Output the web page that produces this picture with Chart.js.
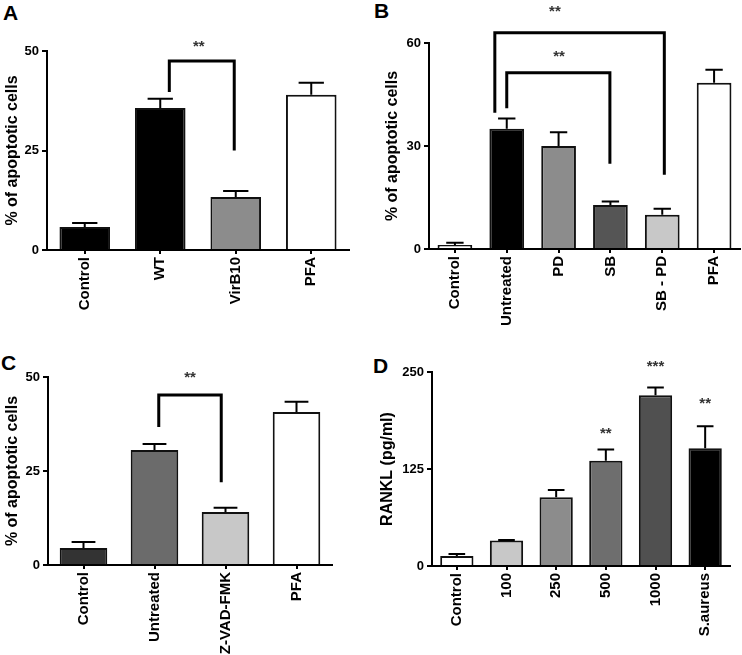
<!DOCTYPE html>
<html>
<head>
<meta charset="utf-8">
<script src="https://cdn.jsdelivr.net/npm/chart.js@4"></script>
<style>
  html, body { margin:0; padding:0; background:#fff; }
  body { width:742px; height:655px; position:relative; overflow:hidden; font-family:"Liberation Sans", Arial, sans-serif; }
  .panel { position:absolute; }
  .letter { position:absolute; font-weight:bold; font-size:21px; line-height:1; color:#000; }
</style>
</head>
<body>
<div class="letter" style="left:3px;top:2px;">A</div>
<div class="letter" style="left:374px;top:0px;">B</div>
<div class="letter" style="left:1px;top:352px;">C</div>
<div class="letter" style="left:373px;top:355px;">D</div>
<canvas id="cA" class="panel" width="371" height="330" style="left:0;top:0;"></canvas>
<canvas id="cB" class="panel" width="371" height="330" style="left:371px;top:0;"></canvas>
<canvas id="cC" class="panel" width="371" height="325" style="left:0;top:330px;"></canvas>
<canvas id="cD" class="panel" width="371" height="325" style="left:371px;top:330px;"></canvas>
<script>
// ---------- Panel A ----------
const catsA = ['Control', 'WT', 'VirB10', 'PFA'];
const valsA = [5.8, 35.7, 13.3, 39.0];
const errA  = [1.0, 2.3, 1.5, 3.0];
const colorsA = ['#000000', '#000000', '#8c8c8c', '#ffffff'];
const ticksA = [0, 25, 50];
const bracketsA = [[1.12, 1.98, 47.5, 39.7, 25.0]];   // from, to, top, leftEnd, rightEnd
const starsA = [[1.51, 51.5, '**']];

// ---------- Panel B ----------
const catsB = ['Control', 'Untreated', 'PD', 'SB', 'SB - PD', 'PFA'];
const valsB = [1.2, 35.0, 30.0, 12.8, 10.0, 48.4];
const errB  = [0.6, 3.0, 4.0, 1.0, 1.7, 3.8];
const colorsB = ['#ffffff', '#000000', '#8c8c8c', '#555555', '#c8c8c8', '#ffffff'];
const ticksB = [0, 30, 60];
const bracketsB = [[0.77, 4.04, 63.0, 39.7, 21.6], [1.0, 2.99, 51.3, 41.0, 24.8]];
const starsB = [[1.93, 69.7, '**'], [2.01, 56.5, '**']];

// ---------- Panel C ----------
const catsC = ['Control', 'Untreated', 'Z-VAD-FMK', 'PFA'];
const valsC = [4.5, 30.6, 14.1, 40.7];
const errC  = [1.6, 1.6, 1.1, 2.7];
const colorsC = ['#333333', '#6b6b6b', '#c8c8c8', '#ffffff'];
const ticksC = [0, 25, 50];
const bracketsC = [[1.06, 1.94, 45.2, 36.7, 22.0]];
const starsC = [[1.5, 50.3, '**']];

// ---------- Panel D ----------
const catsD = ['Control', '100', '250', '500', '1000', 'S.aureus'];
const valsD = [12.9, 33.0, 88.5, 135.7, 220.0, 151.6];
const errD  = [2.6, 0.6, 9.5, 14.3, 10.0, 28.4];
const colorsD = ['#ffffff', '#c8c8c8', '#8c8c8c', '#6e6e6e', '#505050', '#000000'];
const ticksD = [0, 125, 250];
const bracketsD = [];
const starsD = [[3, 172.7, '**'], [4, 259.0, '***'], [5, 211.0, '**']];

const FONT = '"Liberation Sans", Arial, sans-serif';

function annotPlugin(vals, errs, brackets, stars) {
  return {
    id: 'annot',
    afterDatasetsDraw(chart) {
      const ctx = chart.ctx;
      const xs = chart.scales.x, ys = chart.scales.y;
      const meta = chart.getDatasetMeta(0);
      ctx.save();
      ctx.strokeStyle = '#000';
      ctx.lineWidth = 2;
      meta.data.forEach((bar, i) => {
        const yTop = ys.getPixelForValue(vals[i]);
        const yErr = ys.getPixelForValue(vals[i] + errs[i]);
        const half = bar.width / 4;
        ctx.beginPath();
        ctx.moveTo(bar.x, yTop);
        ctx.lineTo(bar.x, yErr);
        ctx.moveTo(bar.x - half, yErr);
        ctx.lineTo(bar.x + half, yErr);
        ctx.stroke();
      });
      ctx.lineWidth = 3;
      ctx.lineJoin = 'miter';
      brackets.forEach(b => {
        const x1 = xs.getPixelForValue(b[0]);
        const x2 = xs.getPixelForValue(b[1]);
        const yt = ys.getPixelForValue(b[2]);
        ctx.beginPath();
        ctx.moveTo(x1, ys.getPixelForValue(b[3]));
        ctx.lineTo(x1, yt);
        ctx.lineTo(x2, yt);
        ctx.lineTo(x2, ys.getPixelForValue(b[4]));
        ctx.stroke();
      });
      ctx.fillStyle = '#333';
      ctx.font = 'bold 15px ' + FONT;
      ctx.textAlign = 'center';
      ctx.textBaseline = 'middle';
      stars.forEach(s => {
        ctx.fillText(s[2], xs.getPixelForValue(s[0]), ys.getPixelForValue(s[1]) + 2);
      });
      ctx.restore();
    }
  };
}

function makeChart(id, cats, vals, errs, colors, ticks, brackets, stars, box, title, titlePad) {
  // box: [yAxisWidth, padTop, padRight, xAxisHeight]
  const step = ticks[1] - ticks[0];
  return new Chart(document.getElementById(id), {
    type: 'bar',
    data: {
      labels: cats,
      datasets: [{
        data: vals,
        backgroundColor: colors,
        borderColor: '#111',
        borderWidth: 2,
        categoryPercentage: 1.0,
        barPercentage: 0.67
      }]
    },
    options: {
      responsive: false,
      animation: false,
      devicePixelRatio: 1,
      layout: { padding: { left: 0, bottom: 0, top: box[1], right: box[2] } },
      plugins: { legend: { display: false }, tooltip: { enabled: false } },
      scales: {
        x: {
          afterFit: s => { s.height = box[3]; },
          grid: { display: true, drawOnChartArea: false, drawTicks: true, tickLength: 4, color: '#000', lineWidth: 2, offset: false },
          border: { display: true, color: '#000', width: 2 },
          ticks: { color: '#000', font: { family: FONT, size: 15, weight: 'bold' }, maxRotation: 90, minRotation: 90, padding: 3, autoSkip: false }
        },
        y: {
          min: ticks[0], max: ticks[ticks.length - 1],
          afterFit: s => { s.width = box[0]; },
          grid: { display: true, drawOnChartArea: false, drawTicks: true, tickLength: 5, color: '#000', lineWidth: 2 },
          border: { display: true, color: '#000', width: 2 },
          ticks: { stepSize: step, color: '#000', font: { family: FONT, size: 13, weight: 'bold' }, padding: 3 },
          title: { display: true, text: title, color: '#000', font: { family: FONT, size: 16, weight: 'bold' }, padding: { top: titlePad, bottom: 0 } }
        }
      }
    },
    plugins: [annotPlugin(vals, errs, brackets, stars)]
  });
}

makeChart('cA', catsA, valsA, errA, colorsA, ticksA, bracketsA, starsA, [47, 51, 22, 80], '% of apoptotic cells', 3);
makeChart('cB', catsB, valsB, errB, colorsB, ticksB, bracketsB, starsB, [58, 43, 2, 81], '% of apoptotic cells', 12);
makeChart('cC', catsC, valsC, errC, colorsC, ticksC, bracketsC, starsC, [48, 47, 39, 90], '% of apoptotic cells', 3);
makeChart('cD', catsD, valsD, errD, colorsD, ticksD, bracketsD, starsD, [61, 42, 12, 89], 'RANKL (pg/ml)', 7);
</script>
</body>
</html>
